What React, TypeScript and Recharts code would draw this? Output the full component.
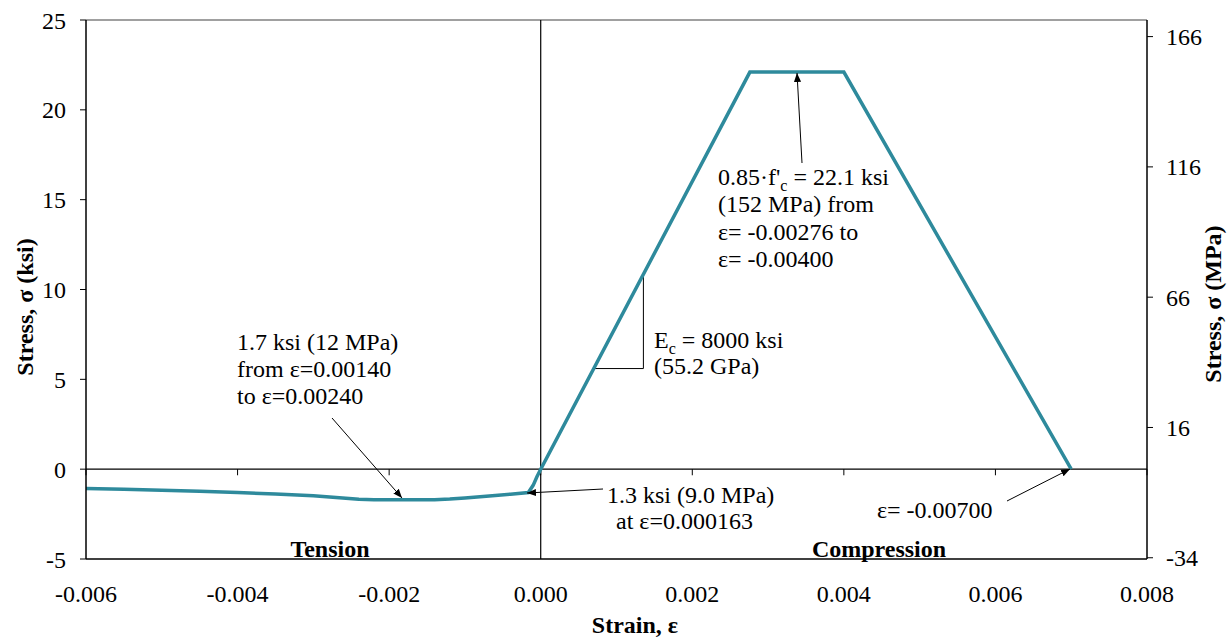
import { ComposedChart, Line, XAxis, YAxis, ReferenceLine } from "recharts";

// strain (x) and stress in ksi (y)
const strain = [
  -0.006, -0.0055, -0.005, -0.0045, -0.004, -0.0035, -0.003, -0.0027, -0.0024, -0.0022,
  -0.0014, -0.0012, -0.001, -0.0008, -0.0006, -0.0004, -0.000163, -0.0001, -0.00005, 0,
  0.00276, 0.004, 0.007,
];
const stressKsi = [
  -1.08, -1.12, -1.17, -1.23, -1.3, -1.38, -1.48, -1.58, -1.68, -1.7,
  -1.7, -1.66, -1.6, -1.53, -1.46, -1.39, -1.3, -0.9, -0.42, 0,
  22.1, 22.1, 0,
];

const xTicks = [-0.006, -0.004, -0.002, 0, 0.002, 0.004, 0.006, 0.008];
const ksiTicks = [-5, 0, 5, 10, 15, 20, 25];
const mpaTicks = [-34, 16, 66, 116, 166];
const KSI_TO_MPA = 6.894757;
const Ec = 8000; // ksi
const slopeStrains = [0.0007, 0.001355]; // small slope triangle legs

const data = strain.map((s, i) => ({ strain: s, ksi: stressKsi[i], mpa: stressKsi[i] * KSI_TO_MPA }));

const FONT = "'Liberation Serif', 'Times New Roman', serif";
const tickStyle = { fontSize: 24, fill: "#000", fontFamily: FONT };

export default function App() {
  const [s0, s1] = slopeStrains;
  return (
    <div style={{ position: "absolute", left: 0, top: 0, width: 1229, height: 637, background: "#fff" }}>
      <ComposedChart width={1229} height={637} data={data} margin={{ top: 20, right: 0, bottom: 0, left: 0 }}>
        <XAxis
          dataKey="strain"
          type="number"
          domain={[-0.006, 0.008]}
          ticks={xTicks}
          tickFormatter={(v: number) => v.toFixed(3)}
          height={78}
          tick={tickStyle}
          tickLine={false}
          tickSize={6}
          tickMargin={20}
          axisLine={{ stroke: "#000", strokeWidth: 1.5 }}
          allowDataOverflow
        />
        <YAxis
          yAxisId="ksi"
          type="number"
          domain={[-5, 25]}
          ticks={ksiTicks}
          width={86}
          tick={tickStyle}
          tickSize={6}
          tickMargin={14}
          tickLine={{ stroke: "#000" }}
          axisLine={{ stroke: "#000", strokeWidth: 1.5 }}
          allowDataOverflow
        />
        <YAxis
          yAxisId="mpa"
          orientation="right"
          type="number"
          domain={[-5 * KSI_TO_MPA, 25 * KSI_TO_MPA]}
          ticks={mpaTicks}
          width={82}
          tick={tickStyle}
          tickSize={6}
          tickMargin={13}
          tickLine={{ stroke: "#000" }}
          axisLine={{ stroke: "#000", strokeWidth: 1.5 }}
          allowDataOverflow
        />
        <ReferenceLine yAxisId="ksi" y={25} stroke="#808080" strokeWidth={1.5} />
        <ReferenceLine yAxisId="ksi" y={0} stroke="#000" strokeWidth={1.2} />
        <ReferenceLine yAxisId="ksi" x={0} stroke="#000" strokeWidth={1.2} />
        {xTicks.map((t) => (
          <ReferenceLine
            key={t}
            yAxisId="ksi"
            segment={[{ x: t, y: 0 }, { x: t, y: -0.34 }]}
            stroke="#000"
            strokeWidth={1}
          />
        ))}
        <ReferenceLine
          yAxisId="ksi"
          segment={[{ x: s0, y: Ec * s0 }, { x: s1, y: Ec * s0 }]}
          stroke="#000"
          strokeWidth={1}
        />
        <ReferenceLine
          yAxisId="ksi"
          segment={[{ x: s1, y: Ec * s0 }, { x: s1, y: Ec * s1 }]}
          stroke="#000"
          strokeWidth={1}
        />
        <Line
          yAxisId="mpa"
          dataKey="mpa"
          stroke="none"
          dot={false}
          activeDot={false}
          legendType="none"
          isAnimationActive={false}
        />
        <Line
          yAxisId="ksi"
          dataKey="ksi"
          type="linear"
          stroke="#2e8a9c"
          strokeWidth={3.5}
          dot={false}
          activeDot={false}
          isAnimationActive={false}
        />
      </ComposedChart>

      {/* annotations and axis titles */}
      <svg
        width={1229}
        height={637}
        style={{ position: "absolute", left: 0, top: 0, pointerEvents: "none" }}
        fontFamily={FONT}
        fontSize={24}
      >
        <defs>
          <marker id="arr" viewBox="0 0 10 10" refX="10" refY="5" markerWidth="9" markerHeight="9" orient="auto-start-reverse" markerUnits="userSpaceOnUse">
            <path d="M0,1 L10,5 L0,9 z" fill="#000" />
          </marker>
        </defs>
        <g stroke="#000" strokeWidth={1}>
          <line x1={802} y1={163} x2={797} y2={73} markerEnd="url(#arr)" />
          <line x1={332} y1={418} x2={402} y2={498} markerEnd="url(#arr)" />
          <line x1={603} y1={489} x2={527} y2={493} markerEnd="url(#arr)" />
          <line x1={1007} y1={501} x2={1070} y2={469} markerEnd="url(#arr)" />
        </g>

        <text x={718} y={185}>
          0.85·f'<tspan fontSize={16} dy={6}>c</tspan>
          <tspan dy={-6}> = 22.1 ksi</tspan>
        </text>
        <text x={718} y={212}>(152 MPa) from</text>
        <text x={718} y={240}>ε= -0.00276 to</text>
        <text x={718} y={267}>ε= -0.00400</text>

        <text x={654} y={348}>
          E<tspan fontSize={16} dy={6}>c</tspan>
          <tspan dy={-6}> = 8000 ksi</tspan>
        </text>
        <text x={654} y={374}>(55.2 GPa)</text>

        <text x={237} y={350}>1.7 ksi (12 MPa)</text>
        <text x={237} y={377}>from ε=0.00140</text>
        <text x={237} y={404}>to ε=0.00240</text>

        <text x={607} y={503}>1.3 ksi (9.0 MPa)</text>
        <text x={616} y={529}>at ε=0.000163</text>

        <text x={877} y={518}>ε= -0.00700</text>

        <text x={330} y={557} textAnchor="middle" fontWeight="bold">Tension</text>
        <text x={879} y={557} textAnchor="middle" fontWeight="bold">Compression</text>

        <text x={635} y={633} textAnchor="middle" fontWeight="bold">Strain, ε</text>
        <text transform="translate(33,307) rotate(-90)" textAnchor="middle" fontWeight="bold">Stress, σ (ksi)</text>
        <text transform="translate(1221,304) rotate(-90)" textAnchor="middle" fontWeight="bold">Stress, σ (MPa)</text>
      </svg>
    </div>
  );
}
